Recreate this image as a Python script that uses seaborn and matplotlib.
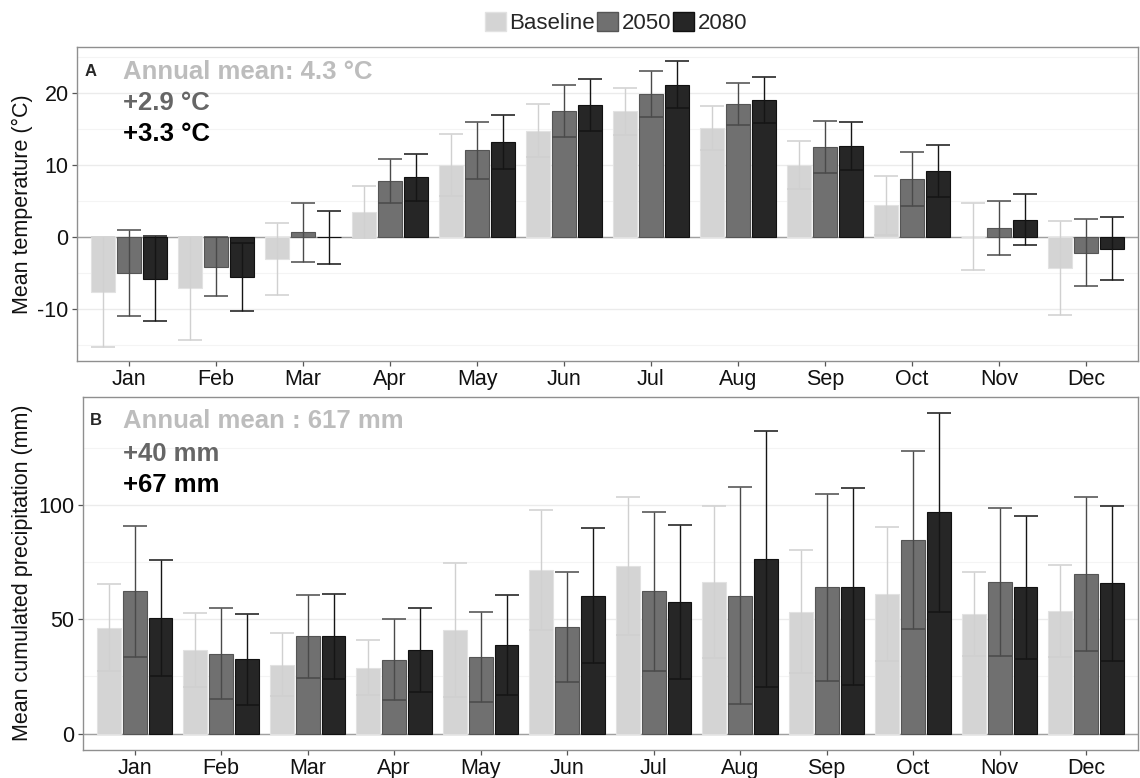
import numpy as np
import pandas as pd
import matplotlib
matplotlib.use("Agg")
import matplotlib.pyplot as plt
from matplotlib.patches import Patch
from matplotlib.ticker import MultipleLocator
import seaborn as sns

months = ["Jan", "Feb", "Mar", "Apr", "May", "Jun", "Jul", "Aug", "Sep", "Oct", "Nov", "Dec"]
periods = ["Baseline", "2050", "2080"]

# Panel A: mean temperature (°C) and error half-widths
temp_base = [-7.6, -7.1, -3.1, 3.4, 10.0, 14.75, 17.4, 15.1, 10.0, 4.4, 0.05, -4.3]
temp_base_err = [7.6, 7.1, 5.0, 3.6, 4.3, 3.65, 3.2, 3.0, 3.3, 4.1, 4.65, 6.5]
temp_2050 = [-5.0, -4.1, 0.65, 7.75, 12.0, 17.45, 19.8, 18.45, 12.5, 8.0, 1.25, -2.2]
temp_2050_err = [5.95, 4.1, 4.05, 3.1, 3.9, 3.6, 3.15, 2.95, 3.6, 3.75, 3.8, 4.65]
temp_2080 = [-5.8, -5.5, -0.05, 8.25, 13.2, 18.25, 21.1, 19.0, 12.6, 9.2, 2.4, -1.6]
temp_2080_err = [5.9, 4.7, 3.65, 3.2, 3.75, 3.6, 3.25, 3.15, 3.3, 3.6, 3.55, 4.4]

# Panel B: mean cumulated precipitation (mm) and error half-widths
prec_base = [46.4, 36.6, 30.2, 28.9, 45.4, 71.6, 73.3, 66.3, 53.4, 61.2, 52.4, 53.6]
prec_base_err = [19.2, 16.2, 13.8, 11.9, 29.4, 26.2, 30.0, 33.2, 26.8, 29.3, 18.4, 20.1]
prec_2050 = [62.3, 35.0, 42.5, 32.4, 33.5, 46.6, 62.3, 60.4, 63.9, 84.6, 66.3, 69.7]
prec_2050_err = [28.6, 20.0, 18.3, 17.9, 19.5, 24.2, 34.7, 47.3, 41.0, 38.9, 32.5, 33.7]
prec_2080 = [50.4, 32.5, 42.5, 36.7, 38.75, 60.4, 57.6, 76.3, 64.3, 96.8, 63.9, 65.7]
prec_2080_err = [25.4, 19.8, 18.6, 18.3, 22.0, 29.7, 33.6, 56.1, 43.1, 43.5, 31.4, 33.9]

temp_labels = ["Annual mean: 4.3 °C", "+2.9 °C", "+3.3 °C"]
prec_labels = ["Annual mean : 617 mm", "+40 mm", "+67 mm"]

fill_colors = ["#d4d4d4", "#707070", "#262626"]
edge_colors = ["#e2e2e2", "#555555", "#111111"]
err_colors = ["#d0d0d0", "#4a4a4a", "#151515"]
text_colors = ["#bdbdbd", "#666666", "#000000"]

sns.set_theme(style="white")
plt.rcParams["font.family"] = ["Liberation Sans", "DejaVu Sans"]
plt.rcParams["axes.unicode_minus"] = False

FS = 15.5


def make_df(vals, errs):
    rows = []
    for p, v, e in zip(periods, vals, errs):
        for m, vv, ee in zip(months, v, e):
            rows.append({"month": m, "period": p, "value": vv, "err": ee})
    return pd.DataFrame(rows)


fig = plt.figure(figsize=(11.4, 7.78), dpi=100)
axA = fig.add_axes([77 / 1140, 1 - 361 / 778, (1138 - 77) / 1140, (361 - 47) / 778])
axB = fig.add_axes([82.7 / 1140, 1 - 749.7 / 778, (1138 - 82.7) / 1140, (749.7 - 396.7) / 778])


def draw_panel(ax, vals, errs, ylabel, major, minor, label_px):
    df = make_df(vals, errs)
    ax.axhline(0, color="#a0a0a0", lw=1.0, zorder=1)
    sns.barplot(data=df, x="month", y="value", hue="period", order=months,
                hue_order=periods, palette=fill_colors, errorbar=None,
                width=0.9, gap=0.08, legend=False, ax=ax, zorder=2,
                linewidth=0.8)
    bar_conts = list(ax.containers)
    for i, cont in enumerate(bar_conts):
        xs = []
        for bar in cont.patches:
            bar.set_edgecolor(edge_colors[i])
            xs.append(bar.get_x() + bar.get_width() / 2)
        ax.errorbar(xs, vals[i], yerr=errs[i], fmt="none", ecolor=err_colors[i],
                    elinewidth=1.0, capsize=8.6, capthick=1.1, zorder=3)
    lo = min(np.min(np.array(v) - np.array(e)) for v, e in zip(vals, errs))
    hi = max(np.max(np.array(v) + np.array(e)) for v, e in zip(vals, errs))
    lo = min(lo, 0)
    pad = (hi - lo) * 0.05
    ax.set_ylim(lo - pad, hi + pad)
    ax.set_xlim(-0.6, 11.6)
    ax.yaxis.set_major_locator(MultipleLocator(major))
    ax.yaxis.set_minor_locator(MultipleLocator(minor))
    ax.grid(True, which="major", axis="y", color="#ebebeb", lw=1.0, zorder=0)
    ax.grid(True, which="minor", axis="y", color="#f4f4f4", lw=0.8, zorder=0)
    ax.set_axisbelow(True)
    for s in ax.spines.values():
        s.set_color("#8f8f8f")
        s.set_linewidth(1.0)
    ax.tick_params(axis="both", which="major", length=3.5, width=0.9, color="#555555",
                   labelsize=FS, labelcolor="#111111", direction="out",
                   bottom=True, left=True, pad=2.5)
    ax.tick_params(axis="y", which="minor", length=0)
    ax.set_xlabel("")
    ax.set_ylabel(ylabel, fontsize=FS, color="#111111")
    w = ax.get_position().width * 1140
    ax.yaxis.set_label_coords(-label_px / w, 0.5)


draw_panel(axA, [temp_base, temp_2050, temp_2080],
           [temp_base_err, temp_2050_err, temp_2080_err],
           "Mean temperature (°C)", 10, 5, 44)
draw_panel(axB, [prec_base, prec_2050, prec_2080],
           [prec_base_err, prec_2050_err, prec_2080_err],
           "Mean cumulated precipitation (mm)", 50, 25, 50)

# annotation texts
for i, (lab, yc) in enumerate(zip(temp_labels, [72, 103, 134])):
    fig.text(123 / 1140, 1 - yc / 778, lab, fontsize=18.5, fontweight="bold",
             color=text_colors[i], va="center", ha="left")
for i, (lab, yc) in enumerate(zip(prec_labels, [421, 454, 485])):
    fig.text(123 / 1140, 1 - yc / 778, lab, fontsize=18.5, fontweight="bold",
             color=text_colors[i], va="center", ha="left")
fig.text(85 / 1140, 1 - 72 / 778, "A", fontsize=12, fontweight="bold", va="center", ha="left")
fig.text(90 / 1140, 1 - 421 / 778, "B", fontsize=12, fontweight="bold", va="center", ha="left")

handles = [Patch(facecolor=fill_colors[i], edgecolor=edge_colors[i], label=periods[i])
           for i in range(3)]
fig.legend(handles=handles, loc="center", bbox_to_anchor=(616 / 1140, 1 - 23 / 778),
           ncol=3, frameon=False, fontsize=16, handlelength=0.95, handleheight=0.95,
           handletextpad=0.15, columnspacing=0.1, borderpad=0)

fig.savefig("out.png", dpi=100)
